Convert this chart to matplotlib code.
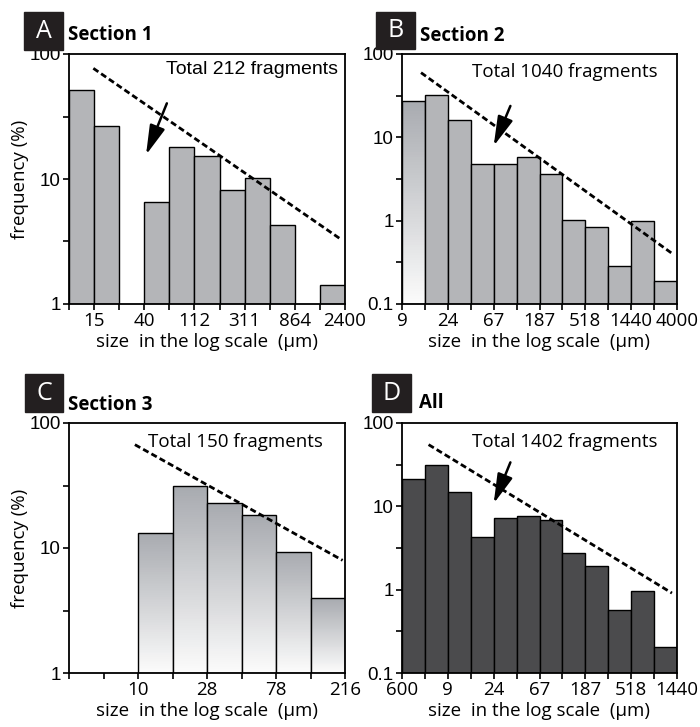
import numpy as np
import matplotlib.pyplot as plt
from matplotlib.patches import Rectangle

# ---- data (frequency in %, one value per size bin) ----
a_freq = [51.5, 26.5, 0, 6.6, 18.1, 15.3, 8.1, 10.2, 4.26, 0, 1.42]
b_freq = [27.5, 32.2, 16.1, 4.8, 4.8, 5.86, 3.63, 1.03, 0.85, 0.288, 0.98, 0.19]
c_freq = [0, 0, 13.2, 31.1, 22.9, 18.5, 9.3, 3.96]
d_freq = [21.3, 31.6, 14.7, 4.29, 7.24, 7.73, 6.92, 2.75, 1.9, 0.565, 0.97, 0.205]

a_ticks = {1: '15', 3: '40', 5: '112', 7: '311', 9: '864', 11: '2400'}
b_ticks = {0: '9', 2: '24', 4: '67', 6: '187', 8: '518', 10: '1440', 12: '4000'}
c_ticks = {2: '10', 4: '28', 6: '78', 8: '216'}
d_ticks = {0: '600', 2: '9', 4: '24', 6: '67', 8: '187', 10: '518', 12: '1440'}

# dashed trend lines: x in bin units, y in %
a_line_x, a_line_y = [0.97, 10.84], [76.8, 3.29]
b_line_x, b_line_y = [0.83, 11.78], [59.7, 0.405]
c_line_x, c_line_y = [1.91, 7.93], [67.1, 7.97]
d_line_x, d_line_y = [1.16, 11.78], [55.0, 0.91]

# arrows: (start x, start y, tip x, tip y)
a_arrow = (3.9, 40.3, 3.07, 15.6)
b_arrow = (4.73, 23.8, 4.0, 7.87)
d_arrow = (4.73, 33.7, 4.0, 10.8)

W, H = 700, 727
LIGHT = '#b4b5b8'
DARK = '#4b4b4d'
TXT = ['Open Sans', 'DejaVu Sans']
ARIAL = ['Liberation Sans', 'DejaVu Sans']
FS = 13.5

fig = plt.figure(figsize=(W / 100, H / 100), dpi=100)


def px_axes(left, top, right, bottom):
    return fig.add_axes([left / W, 1 - bottom / H, (right - left) / W, (bottom - top) / H])


def gradient_bar(ax, x, h, ymin, top_col=(0.66, 0.67, 0.69), bot_col=(0.985, 0.985, 0.985)):
    edges = np.logspace(np.log10(ymin), np.log10(h), 80)
    t = np.linspace(0, 1, len(edges) - 1)[:, None]
    cols = np.array(bot_col) * (1 - t) + np.array(top_col) * t
    ax.bar([x] * (len(edges) - 1), edges[1:] - edges[:-1], bottom=edges[:-1],
           width=1, align='edge', color=cols, linewidth=0, antialiased=False)
    ax.bar(x, h - ymin, bottom=ymin, width=1, align='edge', fill=False,
           edgecolor='black', linewidth=1.0)


def panel(ax, freq, ticks, ymin, color, line_x, line_y, arrow, total, total_pos,
          total_font, total_fs, gradient=(), ylabel=False):
    n = len(freq)
    for i, v in enumerate(freq):
        if v <= 0:
            continue
        if color == 'grad' or i in gradient:
            gradient_bar(ax, i, v, ymin)
        else:
            ax.bar(i, v - ymin, bottom=ymin, width=1, align='edge', color=color,
                   edgecolor='black', linewidth=1.0)
    ax.set_yscale('log')
    ax.set_ylim(ymin, 100)
    ax.set_xlim(0, n)
    ax.plot(line_x, line_y, color='black', lw=2.0, linestyle=(0, (2.2, 1.2)), zorder=5)
    if arrow is not None:
        ax.annotate('', xy=(arrow[2], arrow[3]), xytext=(arrow[0], arrow[1]),
                    arrowprops=dict(arrowstyle='-|>,head_length=0.9,head_width=0.24',
                                    color='black', lw=1.8, mutation_scale=20,
                                    shrinkA=0, shrinkB=0), zorder=6)
    ax.text(total_pos[0], total_pos[1], total, transform=ax.transAxes, ha='right',
            va='center', fontsize=total_fs, family=total_font)

    ax.set_xticks(range(n + 1))
    ax.set_xticklabels([ticks.get(i, '') for i in range(n + 1)], family=TXT, fontsize=FS)
    majors = [10.0 ** k for k in range(int(np.log10(ymin)), 3)]
    ax.set_yticks(majors)
    ax.set_yticklabels(['0.1' if m < 1 else str(int(m)) for m in majors],
                       family=ARIAL, fontsize=13.5)
    ax.set_yticks([m * np.sqrt(10) for m in majors[:-1]], minor=True)
    ax.yaxis.set_minor_formatter(plt.NullFormatter())
    ax.tick_params(which='both', direction='out', length=4, width=1.2, pad=2)
    for s in ax.spines.values():
        s.set_linewidth(1.3)
    ax.set_xlabel('size  in the log scale  (\u03bcm)', family=TXT, fontsize=FS, labelpad=2)
    if ylabel:
        ax.set_ylabel('frequency (%)', family=TXT, fontsize=FS, labelpad=0)


def tag(letter, title, bx0, by0, bx1, by1, tx, ty):
    fig.patches.append(Rectangle((bx0 / W, 1 - by1 / H), (bx1 - bx0) / W, (by1 - by0) / H,
                                 transform=fig.transFigure, color='#231f20'))
    fig.text((bx0 + bx1) / 2 / W, 1 - (by0 + by1) / 2 / H, letter, color='white',
             ha='center', va='center', fontsize=18, family=TXT)
    fig.text(tx / W, 1 - ty / H, title, ha='left', va='center', fontsize=13.5,
             fontweight='bold', family=TXT)


axA = px_axes(69, 54, 345, 304)
axB = px_axes(402, 54, 677, 304)
axC = px_axes(69, 423, 345, 673)
axD = px_axes(402, 423, 677, 673)

panel(axA, a_freq, a_ticks, 1, LIGHT, a_line_x, a_line_y, a_arrow,
      'Total 212 fragments', (0.975, 0.936), ARIAL, 14, ylabel=True)
panel(axB, b_freq, b_ticks, 0.1, LIGHT, b_line_x, b_line_y, b_arrow,
      'Total 1040 fragments', (0.93, 0.928), TXT, FS, gradient=(0,))
panel(axC, c_freq, c_ticks, 1, 'grad', c_line_x, c_line_y, None,
      'Total 150 fragments', (0.92, 0.924), TXT, FS, ylabel=True)
panel(axD, d_freq, d_ticks, 0.1, DARK, d_line_x, d_line_y, d_arrow,
      'Total 1402 fragments', (0.93, 0.924), TXT, FS)

tag('A', 'Section 1', 24, 12, 63, 50, 68, 35)
tag('B', 'Section 2', 376, 12, 415, 49, 420, 36)
tag('C', 'Section 3', 25, 374, 63, 412, 68, 405)
tag('D', 'All', 372, 374, 411, 412, 419, 403)

fig.savefig('out.png', dpi=100)
